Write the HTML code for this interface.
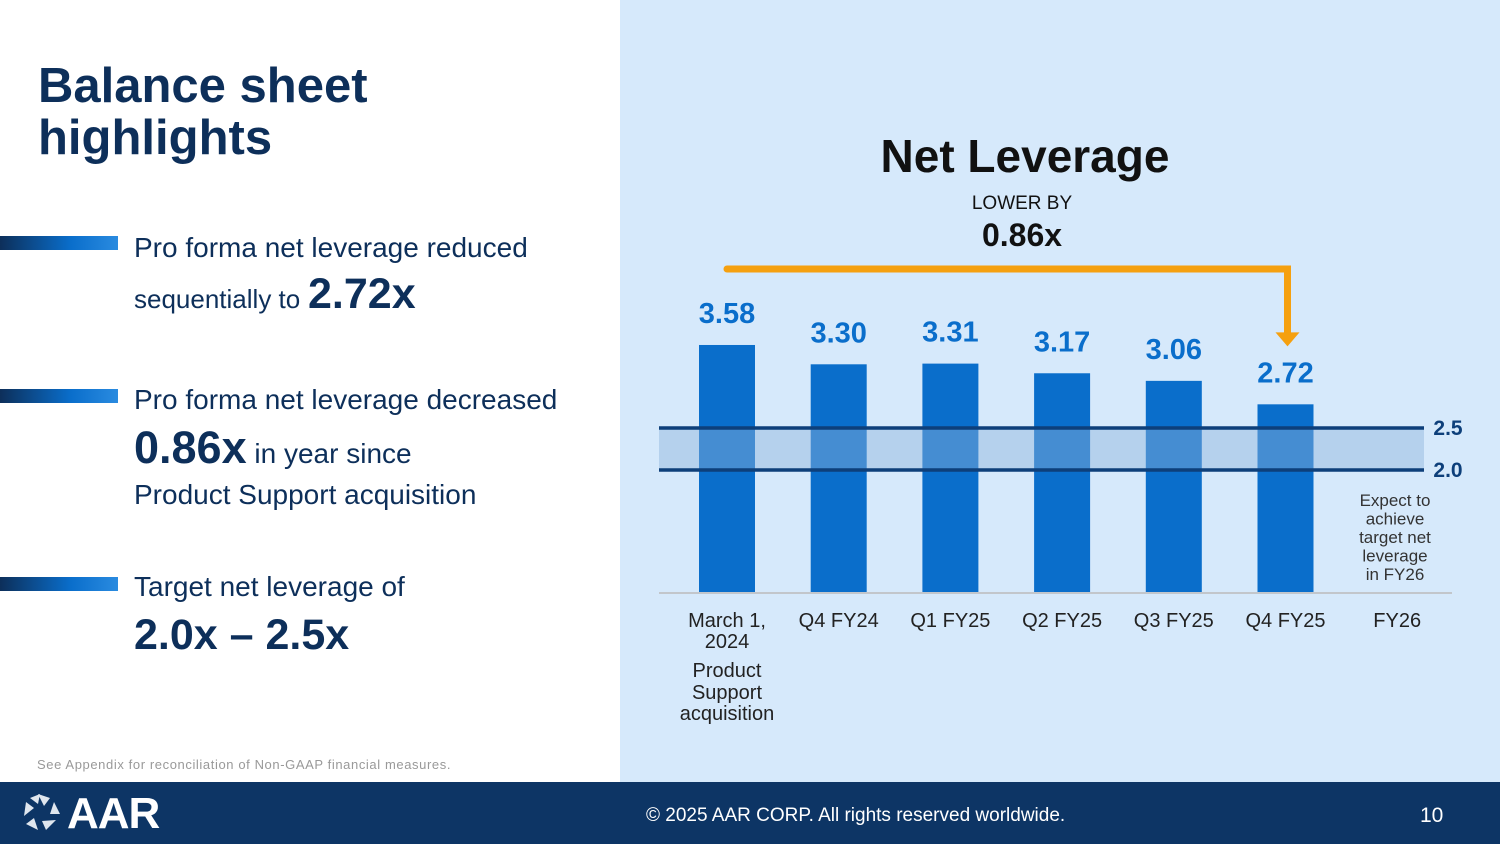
<!DOCTYPE html>
<html><head><meta charset="utf-8"><style>
body{margin:0;width:1500px;height:844px;overflow:hidden;font-family:"Liberation Sans",sans-serif;background:#fff;position:relative}
.a{position:absolute}
.t{color:#0d2f5a}
.bullet{position:absolute;left:0;width:118px;height:14px;background:linear-gradient(90deg,#0d2f5a,#0a6ecb 60%,#2a8be0)}
.bt{position:absolute;left:134px;color:#0d2f5a;font-size:28px;line-height:1.2}
</style></head><body>
<div class="a" style="left:620px;top:0;width:880px;height:782px;background:#d6e9fb"></div>
<div class="a t" style="left:38px;top:60px;font-size:49px;font-weight:bold;line-height:52px">Balance sheet<br>highlights</div>

<div class="bullet" style="top:236px"></div>
<div class="bt" style="top:224px;line-height:47px">Pro forma net leverage reduced<br><span style="font-size:26px">sequentially to</span> <b style="font-size:43px">2.72x</b></div>
<div class="bullet" style="top:389px"></div>
<div class="bt" style="top:376px;line-height:48px">Pro forma net leverage decreased<br><b style="font-size:45px">0.86x</b> in year since<br><span style="position:relative;top:-7px">Product Support acquisition</span></div>
<div class="bullet" style="top:577px"></div>
<div class="bt" style="top:563px;line-height:48px">Target net leverage of<br><b style="font-size:43px">2.0x – 2.5x</b></div>
<div class="a" style="left:37px;top:757px;font-size:13px;color:#999;letter-spacing:0.6px">See Appendix for reconciliation of Non-GAAP financial measures.</div>

<div class="a" style="left:0;top:782px;width:1500px;height:62px;background:#0d3565"></div>
<svg class="a" style="left:20px;top:788px" width="160" height="50">
<g fill="#dfe6ee" transform="translate(22,24)"><path d="M-4,-18 L8,-14 L2,-6 Z"/><path d="M12,-10 L18,2 L8,2 Z"/><path d="M14,8 L4,18 L0,9 Z"/><path d="M-4,18 L-16,12 L-8,6 Z"/><path d="M-18,4 L-16,-10 L-8,-4 Z"/><path d="M-12,-14 L-2,-18 L-4,-8 Z"/></g>
<text x="47" y="40" font-size="44" font-weight="bold" fill="#fff" font-family="Liberation Sans" letter-spacing="-1">AAR</text></svg>
<div class="a" style="left:646px;top:805px;font-size:19px;color:#fff">© 2025 AAR CORP. All rights reserved worldwide.</div>
<div class="a" style="left:1420px;top:804px;font-size:21px;color:#fff">10</div>

<svg id="chart" class="a" style="left:0;top:0" width="1500" height="782"></svg>
<script>
const categories=["March 1, 2024","Q4 FY24","Q1 FY25","Q2 FY25","Q3 FY25","Q4 FY25","FY26"];
const values=[3.58,3.30,3.31,3.17,3.06,2.72,null];
const labels=["3.58","3.30","3.31","3.17","3.06","2.72",""];
const targetRange=[2.0,2.5];
const svg=document.getElementById('chart');const NS='http://www.w3.org/2000/svg';
function el(t,a,p){const e=document.createElementNS(NS,t);for(const k in a)e.setAttribute(k,a[k]);(p||svg).appendChild(e);return e;}
const base=592,x0=727,step=111.7,bw=56;
const xs=i=>x0+i*step;
const yv=v=>base-v*69;
const yt=v=>428-(v-2.5)*84;
let t=el('text',{x:1025,y:172,'text-anchor':'middle','font-size':46,'font-weight':'bold',fill:'#111','font-family':'Liberation Sans'});t.textContent='Net Leverage';

t=el('text',{x:1022,y:209,'text-anchor':'middle','font-size':19,fill:'#111'});t.textContent='LOWER BY';

t=el('text',{x:1022,y:246,'text-anchor':'middle','font-size':32,'font-weight':'bold',fill:'#111'});t.textContent='0.86x';

values.forEach((v,i)=>{if(v==null)return;const r=el('rect',{x:xs(i)-bw/2,y:yv(v),width:bw,height:base-yv(v),fill:'#0a6ecb'});

const l=el('text',{x:xs(i),y:yv(v)-22,'text-anchor':'middle','font-size':29,'font-weight':'bold',fill:'#0a6ecb'});l.textContent=labels[i];
});
const band=el('rect',{x:659,y:yt(targetRange[1]),width:765,height:yt(targetRange[0])-yt(targetRange[1]),fill:'#8fb4dc','fill-opacity':0.45});

targetRange.forEach((v,i)=>{const ln=el('line',{x1:659,x2:1424,y1:yt(v),y2:yt(v),stroke:'#0d3f7a','stroke-width':3.5});

const tx=el('text',{x:1448,y:yt(v)+7,'text-anchor':'middle','font-size':21,'font-weight':'bold',fill:'#0d3f7a'});tx.textContent=v.toFixed(1);
});
const ax=el('line',{x1:659,x2:1452,y1:base+1,y2:base+1,stroke:'#bbb','stroke-width':1.5});

const offs=[0,21,50,72,93];
categories.forEach((c,i)=>{const g=el('text',{x:xs(i),y:627,'text-anchor':'middle','font-size':20,fill:'#222'});

const lines=i==0?["March 1,","2024","Product","Support","acquisition"]:[c];
lines.forEach((s,k)=>{const sp=el('tspan',{x:xs(i),y:627+offs[k]},g);sp.textContent=s;});});
const note=el('text',{x:1395,y:506,'text-anchor':'middle','font-size':17,fill:'#333'});

["Expect to","achieve","target net","leverage","in FY26"].forEach((s,k)=>{const sp=el('tspan',{x:1395,y:506+k*18.5},note);sp.textContent=s;});
const i0=0,i5=5,ay=269;
const ar=el('path',{d:`M${xs(i0)} ${ay} H${xs(i5)+2} V${yv(values[i5])-70}`,fill:'none',stroke:'#f5a00f','stroke-width':7,'stroke-linecap':'round'});

const ah=el('path',{d:`M${xs(i5)-10} ${yv(values[i5])-72} L${xs(i5)+14} ${yv(values[i5])-72} L${xs(i5)+2} ${yv(values[i5])-58} Z`,fill:'#f5a00f'});

</script>
</body></html>
